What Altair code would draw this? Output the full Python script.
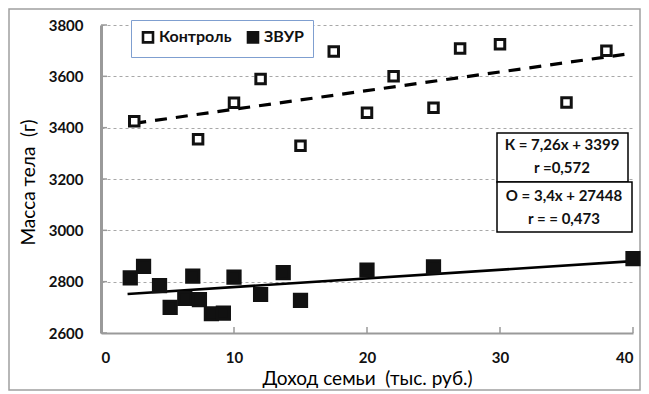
import altair as alt
import pandas as pd

# Control group (open squares)
ctrl_x = [2.5, 7.3, 10, 12, 15, 17.5, 20, 22, 25, 27, 30, 35, 38]
ctrl_y = [3425, 3355, 3497, 3590, 3330, 3697, 3458, 3600, 3478, 3708, 3725, 3498, 3700]

# ЗВУР group (filled squares)
zvur_x = [2.2, 3.2, 4.4, 5.2, 6.3, 6.9, 7.4, 8.3, 9.2, 10, 12, 13.7, 15, 20, 25, 40]
zvur_y = [2815, 2860, 2785, 2700, 2735, 2822, 2730, 2675, 2677, 2818, 2750, 2835, 2727, 2845, 2858, 2890]

# Trend line end points
ctrl_trend_x = [2.5, 40]
ctrl_trend_y = [3417, 3690]
zvur_trend_x = [2, 40]
zvur_trend_y = [2752, 2880]

groups = ["Контроль", "ЗВУР"]
marker_sizes = [90, 150]
x_ticks = [0, 10, 20, 30, 40]
y_ticks = [2600, 2800, 3000, 3200, 3400, 3600, 3800]

eq_lines = ["К = 7,26x + 3399", "r =0,572", "О = 3,4x + 27448", "r = = 0,473"]

FONT = "Lato"
NB = "\u00a0"

pts = pd.DataFrame({
    "x": ctrl_x + zvur_x,
    "y": ctrl_y + zvur_y,
    "group": [groups[0]] * len(ctrl_x) + [groups[1]] * len(zvur_x),
    "sz": [marker_sizes[0]] * len(ctrl_x) + [marker_sizes[1]] * len(zvur_x),
})
ct = pd.DataFrame({"x": ctrl_trend_x, "y": ctrl_trend_y})
zt = pd.DataFrame({"x": zvur_trend_x, "y": zvur_trend_y})

xs = alt.Scale(domain=[0, 40], nice=False)
ys = alt.Scale(domain=[2600, 3800], nice=False)

X = alt.X("x:Q", scale=xs, axis=alt.Axis(
    values=x_ticks, format="d", title="Доход семьи" + NB + " (тыс. руб.)", grid=False, ticks=False,
    domainColor="#9a9a9a", domainWidth=2, labelFont=FONT, labelFontSize=15,
    labelFontWeight="bold", labelColor="#111", labelPadding=17, labelBound=False,
    titleFont=FONT, titleFontSize=19, titleFontWeight="normal", titleColor="#000",
    titlePadding=4))
Y = alt.Y("y:Q", scale=ys, axis=alt.Axis(
    values=y_ticks, format="d", title="Масса тела" + NB + " (г)", grid=True, gridDash=[3, 3],
    gridColor="#a8a8a8", gridWidth=1, ticks=False, domainColor="#9a9a9a",
    domainWidth=3, labelFont=FONT, labelFontSize=15, labelFontWeight="bold",
    labelColor="#111", labelPadding=18, titleFont=FONT, titleFontSize=19,
    titleFontWeight="normal", titleColor="#000", titleX=-63, titleY=157))

frame = alt.Chart(pd.DataFrame({"a": [0]})).mark_rect(
    fillOpacity=0, stroke="#a0a0a0", strokeWidth=1.5).encode(
    x=alt.value(-92), x2=alt.value(539), y=alt.value(-16), y2=alt.value(365))

xt = alt.Chart(pd.DataFrame({"x": x_ticks})).mark_rule(
    color="#9a9a9a", strokeWidth=1.5).encode(
    x=X, y=alt.value(302), y2=alt.value(308))
yt = alt.Chart(pd.DataFrame({"y": y_ticks})).mark_rule(
    color="#9a9a9a", strokeWidth=1.5).encode(
    y=Y, x=alt.value(0), x2=alt.value(6))

ctrl_line = alt.Chart(ct).mark_line(
    color="black", strokeWidth=3.2, strokeDash=[12, 9]).encode(x=X, y=Y)
zvur_line = alt.Chart(zt).mark_line(color="black", strokeWidth=2.6).encode(x=X, y=Y)

points = alt.Chart(pts).mark_point(
    shape="square", filled=True, stroke="#111", strokeWidth=3, opacity=1).encode(
    x=X,
    y=Y,
    fill=alt.Fill("group:N", scale=alt.Scale(domain=groups, range=["white", "#111"]),
                  legend=alt.Legend(
                      orient="none", legendX=30, legendY=-5, direction="horizontal",
                      title=None, strokeColor="#7f9fd0", fillColor="white",
                      padding=9, symbolType="square", symbolSize=100,
                      symbolStrokeWidth=2.6, symbolStrokeColor="#111",
                      labelFont=FONT, labelFontSize=16, labelFontWeight="bold",
                      labelColor="#111", labelOffset=3, columnPadding=10)),
    size=alt.Size("sz:Q", scale=None),
)

boxes = pd.DataFrame({"x": [396, 396], "x2": [527, 531], "y": [108, 157], "y2": [157, 207]})
box_layer = alt.Chart(boxes).mark_rect(fill="white", stroke="black", strokeWidth=1.5).encode(
    x=alt.X("x:Q", scale=None), x2="x2:Q", y=alt.Y("y:Q", scale=None), y2="y2:Q")

eq = pd.DataFrame({"t": eq_lines, "px": [461, 461, 463, 463], "py": [120, 143, 171, 194]})
eq_text = alt.Chart(eq).mark_text(
    font=FONT, fontSize=15, fontWeight="bold", color="#111", baseline="middle",
    align="center").encode(
    x=alt.X("px:Q", scale=None), y=alt.Y("py:Q", scale=None), text="t:N")

chart = alt.layer(
    frame, xt, yt, ctrl_line, zvur_line, points, box_layer, eq_text
).properties(
    width=532, height=308,
    autosize=alt.AutoSizeParams(type="none"),
    padding={"left": 93, "top": 17, "right": 8, "bottom": 61},
).configure_view(stroke=None)

chart.save("out.html", embed_options={"renderer": "svg", "actions": False})
